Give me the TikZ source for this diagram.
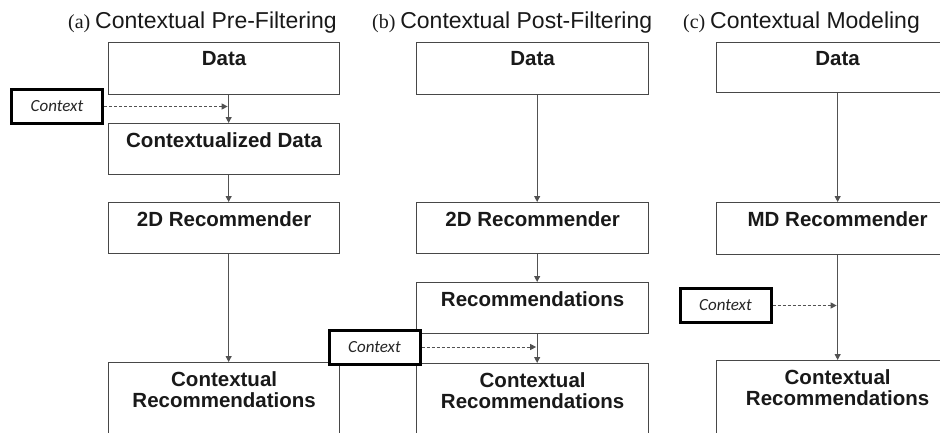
\documentclass[tikz,border=0pt]{standalone}
\usepackage{fontspec}
\setmainfont{Liberation Serif}
\setsansfont{Liberation Sans}
\newfontfamily\ctxfont{Carlito}
\usetikzlibrary{positioning}
\usetikzlibrary{arrows.meta}
\tikzset{boxStyle/.style={rectangle, draw=black!72, line width=1.3pt, inner sep=0pt, anchor=north west, minimum height=51pt, label={[anchor=north, inner sep=0pt, yshift=-9pt, align=center, font=\sffamily\bfseries\fontsize{20.5}{21}\selectfont, text=black!90]north:#1}}}
\tikzset{ctxStyle/.style={rectangle, draw=black, line width=3pt, fill=white, inner sep=0pt, minimum width=91pt, minimum height=34pt, font=\ctxfont\itshape\fontsize{17}{17}\selectfont, text=black!85}}
\tikzset{titleStyle/.style={anchor=base west, inner sep=0pt, font=\sffamily\fontsize{23}{23}\selectfont, text=black!90}}
\tikzset{flow/.style={-{Triangle[length=6pt,width=6pt]}, draw=black!68, line width=1pt}, ctxflow/.style={flow, dash pattern=on 3pt off 2pt, shorten >=1pt}}
\newcommand{\subtag}[1]{{\rmfamily\fontsize{20}{20}\selectfont (#1)}\hspace{4.8pt}}

\begin{document}
\begin{tikzpicture}[x=1pt, y=-1pt]
  \useasboundingbox (0,0) rectangle (940,432);
  \clip (0,0) rectangle (940,432);

  % titles
  \node [titleStyle] (titleA) at (68,28) {\subtag{a}Contextual Pre-Filtering};
  \node [titleStyle] (titleB) at (372,28) {\subtag{b}Contextual Post-Filtering};
  \node [titleStyle] (titleC) at (683,28) {\subtag{c}Contextual Modeling};

  % nodes (a)
  \node at (108,42) [boxStyle={Data}, minimum width=231pt, minimum height=52pt] (dataA){};
  \node at (108,123) [boxStyle={Contextualized Data}, minimum width=231pt] (ctxdataA){};
  \node at (108,202) [boxStyle={2D Recommender}, minimum width=231pt] (recA){};
  \node at (108,362) [boxStyle={Contextual\\Recommendations}, minimum width=231pt, minimum height=100pt] (outA){};
  \node at (57,106.5) [ctxStyle] (ctxA){Context};

  % nodes (b)
  \node at (416,42) [boxStyle={Data}, minimum width=232pt, minimum height=52pt] (dataB){};
  \node at (416,202) [boxStyle={2D Recommender}, minimum width=232pt] (recB){};
  \node at (416,282) [boxStyle={Recommendations}, minimum width=232pt] (listB){};
  \node at (416,363) [boxStyle={Contextual\\Recommendations}, minimum width=232pt, minimum height=100pt] (outB){};
  \node at (374.5,347) [ctxStyle] (ctxB){Context};

  % nodes (c)
  \node at (716,42) [boxStyle={Data}, minimum width=242pt, minimum height=50pt] (dataC){};
  \node at (716,202) [boxStyle={MD Recommender}, minimum width=242pt, minimum height=52pt] (recC){};
  \node at (716,360) [boxStyle={Contextual\\Recommendations}, minimum width=242pt, minimum height=100pt] (outC){};
  \node at (725.5,305.5) [ctxStyle] (ctxC){Context};

  % joins
  \coordinate (joinA) at ([xshift=4.5pt]dataA.south |- ctxA.east);
  \coordinate (joinB) at ([xshift=4.5pt]listB.south |- ctxB.east);
  \coordinate (joinC) at (recC.south |- ctxC.east);

  % lines
  \draw [flow] ([xshift=4.5pt]dataA.south) -- ([xshift=4.5pt]ctxdataA.north);
  \draw [flow] ([xshift=4.5pt]ctxdataA.south) -- ([xshift=4.5pt]recA.north);
  \draw [flow] ([xshift=4.5pt]recA.south) -- ([xshift=4.5pt]outA.north);
  \draw [ctxflow] (ctxA.east) -- (joinA);

  \draw [flow] ([xshift=4.5pt]dataB.south) -- ([xshift=4.5pt]recB.north);
  \draw [flow] ([xshift=4.5pt]recB.south) -- ([xshift=4.5pt]listB.north);
  \draw [flow] ([xshift=4.5pt]listB.south) -- ([xshift=4.5pt]outB.north);
  \draw [ctxflow] (ctxB.east) -- (joinB);

  \draw [flow] (dataC.south) -- (recC.north);
  \draw [flow] (recC.south) -- (outC.north);
  \draw [ctxflow] (ctxC.east) -- (joinC);
\end{tikzpicture}
\end{document}
